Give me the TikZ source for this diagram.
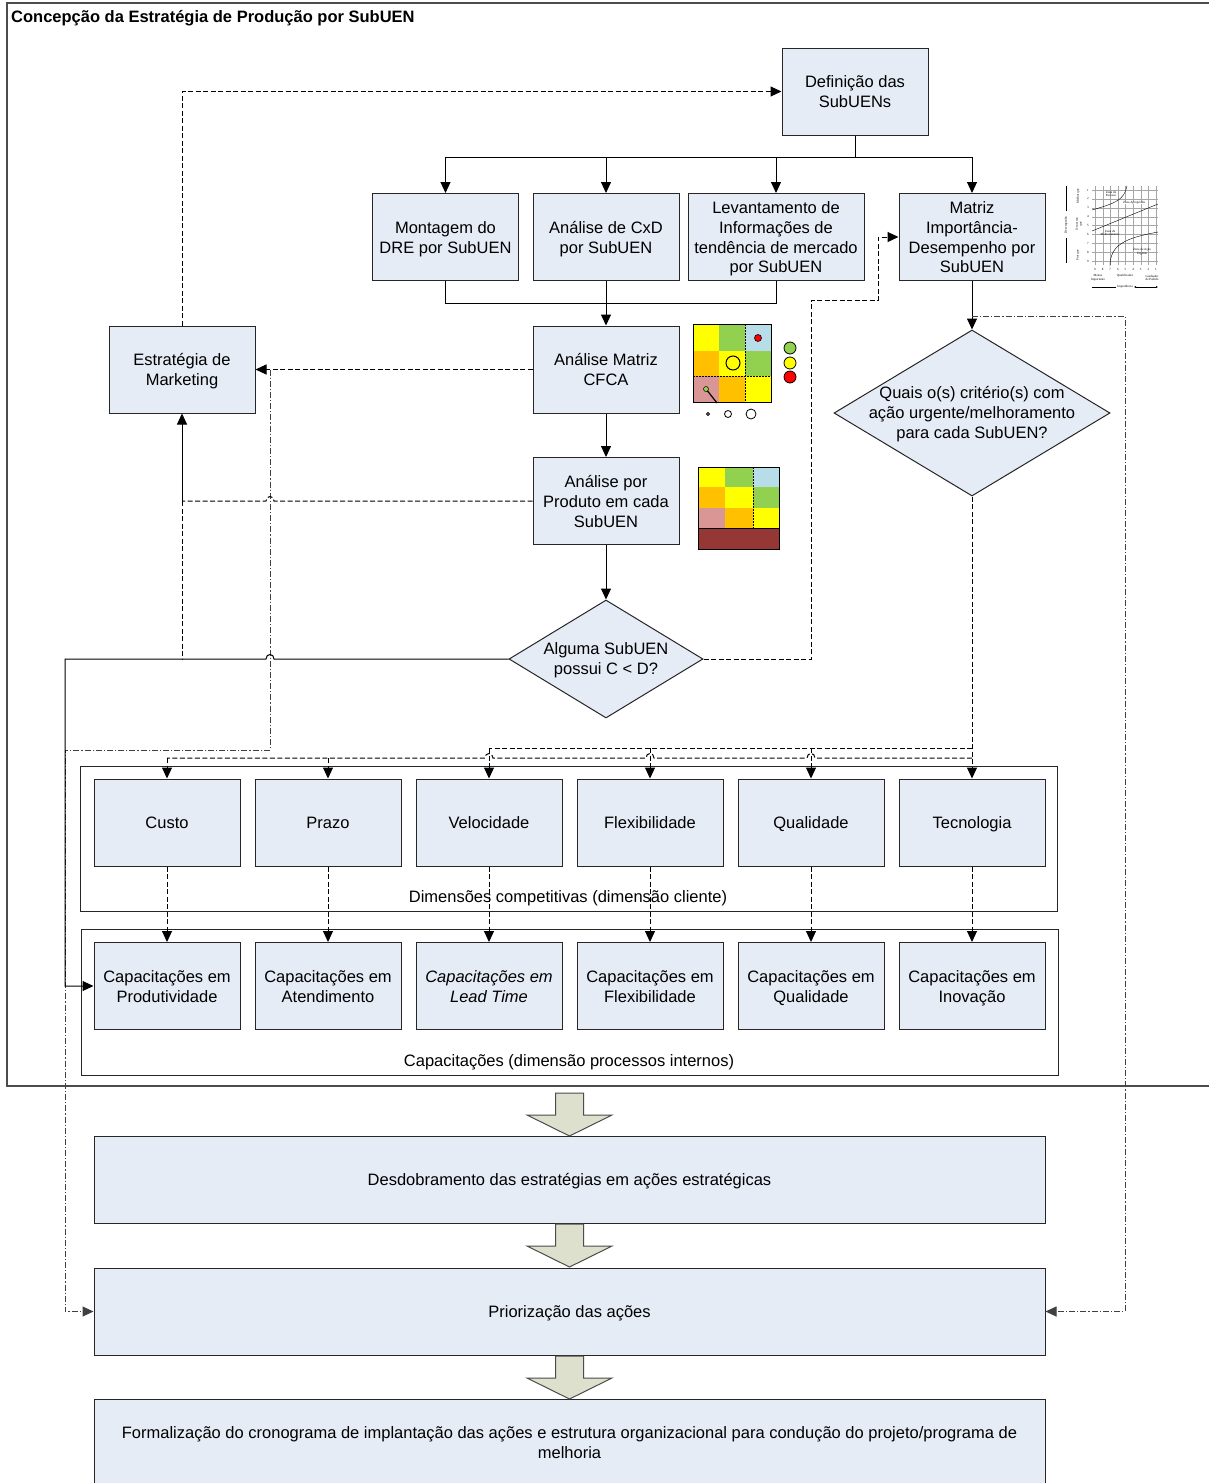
\documentclass[tikz,border=0pt]{standalone}
\usepackage{fontspec}
\setmainfont{Liberation Sans}
\newfontfamily\chartfont{Liberation Serif}
\usetikzlibrary{arrows.meta,shapes.geometric}
\definecolor{boxfill}{RGB}{230,236,246}
\definecolor{blockfill}{RGB}{221,224,204}
\definecolor{cyel}{RGB}{255,255,0}
\definecolor{cgrn}{RGB}{146,208,80}
\definecolor{cblu}{RGB}{183,222,232}
\definecolor{corg}{RGB}{255,192,0}
\definecolor{cpnk}{RGB}{218,150,148}
\definecolor{cdrd}{RGB}{149,55,53}
\definecolor{cred}{RGB}{255,0,0}
\newcommand{\topstrut}{\rule{0pt}{15.5pt}}
\newcommand{\botstrut}{\rule[-3.5pt]{0pt}{3.5pt}}
\begin{document}
\begin{tikzpicture}[x=1pt,y=-1pt,
  >={Triangle[length=11pt,width=10pt]},
  every node/.style={font=\fontsize{16.5}{19.7}\selectfont},
  txt/.style={align=center, inner sep=0pt, execute at begin node=\topstrut, execute at end node=\botstrut},
  box/.style={txt, draw=black!85, fill=boxfill, line width=1pt, minimum width=146pt, minimum height=87pt},
  widebox/.style={box, minimum width=951pt},
  dia/.style={draw=black!85, fill=boxfill, line width=1pt, shape=diamond, inner sep=0pt},
  frame/.style={draw=black!85, line width=1pt},
  conn/.style={line width=1pt, draw=black},
  dsh/.style={conn, dash pattern=on 5pt off 2.5pt},
  dshdot/.style={conn, draw=black!75, dash pattern=on 6pt off 2pt on 1.2pt off 2pt},
  blockarrow/.style={draw=black!70, fill=blockfill, line width=1pt, line join=miter},
  tiny/.style={font=\chartfont\fontsize{3.2}{3.6}\selectfont, inner sep=0pt, align=center},
  grid3/.style={draw=black!35, line width=0.25pt},
]
\useasboundingbox (0,0) rectangle (1208,1483);
\fill[white] (0,0) rectangle (1208,1483);

% outer frame and title
\draw[draw=black!70, line width=1.2pt] (7,3) rectangle (1222,1086);
\node[anchor=base west, inner sep=0pt, font=\fontsize{16.5}{19.7}\selectfont\bfseries] (title) at (11,23) {Concepção da Estratégia de Produção por SubUEN};

% group frames
\draw[frame] (80,766) rectangle (1057,911);
\node[txt] (dimlabel) at (568,896) {Dimensões competitivas (dimensão cliente)};
\draw[frame] (81,929) rectangle (1058,1075);
\node[txt] (caplabel) at (569,1060) {Capacitações (dimensão processos internos)};

% main boxes (multi-line captions are set as their own nodes)
\node[box] (def) at (855,91.5) {};
\node[txt] (deft) at (855,93.5) {Definição das\\SubUENs};
\node[box] (mont) at (445.5,237) {};
\node[txt] (montt) at (445.5,239) {Montagem do\\DRE por SubUEN};
\node[box] (cxd) at (606,237) {};
\node[txt] (cxdt) at (606,239) {Análise de CxD\\por SubUEN};
\node[box, minimum width=176pt] (lev) at (776,237) {};
\node[txt] (levt) at (776,239) {Levantamento de\\Informações de\\tendência de mercado\\por SubUEN};
\node[box] (mid) at (972,237) {};
\node[txt] (midt) at (972,239) {Matriz\\Importância-\\Desempenho por\\SubUEN};
\node[box] (mkt) at (182,369.5) {};
\node[txt] (mktt) at (182,371.5) {Estratégia de\\Marketing};
\node[box] (cfca) at (606,369.5) {};
\node[txt] (cfcat) at (606,371.5) {Análise Matriz\\CFCA};
\node[box] (prod) at (606,501) {};
\node[txt] (prodt) at (606,503) {Análise por\\Produto em cada\\SubUEN};

\node[dia, minimum width=194pt, minimum height=118pt] (d1) at (606,659) {};
\node[txt] (d1t) at (606,660) {Alguma SubUEN\\possui C < D?};
\node[dia, minimum width=276pt, minimum height=166pt] (d2) at (972,413) {};
\node[txt] (d2t) at (972,414) {Quais o(s) critério(s) com\\ação urgente/melhoramento\\para cada SubUEN?};

% competitive dimensions
\node[box] (custo) at (167,822.5) {Custo};
\node[box] (prazo) at (328,822.5) {Prazo};
\node[box] (veloc) at (489,822.5) {Velocidade};
\node[box] (flex) at (650,822.5) {Flexibilidade};
\node[box] (qual) at (811,822.5) {Qualidade};
\node[box] (tec) at (972,822.5) {Tecnologia};

% capabilities
\foreach \n/\x in {cprod/167, cate/328, clt/489, cflex/650, cqual/811, cinov/972}
  \node[box] (\n) at (\x,986) {};
\node[txt] (cprodt) at (167,988) {Capacitações em\\Produtividade};
\node[txt] (catet) at (328,988) {Capacitações em\\Atendimento};
\node[txt, font=\fontsize{16.5}{19.7}\selectfont\itshape] (cltt) at (489,988) {Capacitações em\\Lead Time};
\node[txt] (cflext) at (650,988) {Capacitações em\\Flexibilidade};
\node[txt] (cqualt) at (811,988) {Capacitações em\\Qualidade};
\node[txt] (cinovt) at (972,988) {Capacitações em\\Inovação};

% lower stages
\node[widebox] (desd) at (569.5,1179.5) {Desdobramento das estratégias em ações estratégicas};
\node[widebox] (prio) at (569.5,1311.5) {Priorização das ações};
\node[widebox, minimum height=110pt] (form) at (569.5,1454) {};
\node[txt] (formt) at (569.5,1444) {Formalização do cronograma de implantação das ações e estrutura organizacional para condução do projeto/programa de\\melhoria};

% block arrows between stages
\foreach \t in {1093,1224,1356}{
  \draw[blockarrow] (555.5,\t) -- (583.5,\t) -- (583.5,\t+22) -- (612,\t+22) -- (569.5,\t+43) -- (527,\t+22) -- (555.5,\t+22) -- cycle;
}

% top distribution
\coordinate (j1) at (855,157);
\draw[conn] (def.south) -- (j1);
\draw[conn,->] (j1) -| (mont.north);
\draw[conn,->] (j1) -| (cxd.north);
\draw[conn,->] (j1) -| (lev.north);
\draw[conn,->] (j1) -| (mid.north);

% merge into CFCA
\coordinate (j2) at (606,303);
\draw[conn] (mont.south) |- (j2);
\draw[conn] (lev.south) |- (j2);
\draw[conn,->] (cxd.south) -- (cfca.north);
\draw[conn,->] (cfca.south) -- (prod.north);
\draw[conn,->] (prod.south) -- (d1.north);

% marketing loop
\draw[dsh,->] (mkt.north) |- (def.west);
\draw[dsh,->] (cfca.west) -- (mkt.east);
\coordinate (k1) at (270,369.5);
\draw[dshdot,->] (k1) -- (270,750) -- (65,750) |- (prio.west);
\coordinate (m1) at (182,501);
\draw[dsh] (prod.west) -- (274,501) .. controls (274,495) and (266,495) .. (266,501) -- (m1);
\draw[conn,->] (m1) -- (mkt.south);
\draw[dsh] (m1) -- (182,659);
\draw[conn,->] (d1.west) -- (274,659) .. controls (274,653) and (266,653) .. (266,659) -- (65,659) |- (cprod.west);

% link to importance-performance matrix
\draw[dsh,->] (d1.east) -- (811,659) -- (811,300) -- (878,300) |- (mid.west);
\draw[conn,->] (mid.south) -- (d2.north);
\draw[dshdot,->] (972,316) -- (1125,316) |- (prio.east);

% from criteria decision to competitive dimensions
\draw[dsh,->] (d2.south) -- (tec.north);
\draw[dsh] (972,748) -- (489,748);
\draw[dsh,->] (489,748) -- (veloc.north);
\draw[dsh,->] (650,748) -- (flex.north);
\draw[dsh,->] (811,748) -- (qual.north);
\draw[dsh] (972,758) -- (815,758) .. controls (815,752) and (807,752) .. (807,758)
  -- (654,758) .. controls (654,752) and (646,752) .. (646,758)
  -- (493,758) .. controls (493,752) and (485,752) .. (485,758) -- (167,758);
\draw[dsh,->] (167,758) -- (custo.north);
\draw[dsh,->] (328,758) -- (prazo.north);

% dimensions to capabilities
\foreach \a/\b in {custo/cprod, prazo/cate, veloc/clt, flex/cflex, qual/cqual, tec/cinov}
  \draw[dsh,->] (\a.south) -- (\b.north);

% CFCA matrix thumbnail
\fill[cyel] (693,324) rectangle (719,351);
\fill[cgrn] (719,324) rectangle (745,351);
\fill[cblu] (745,324) rectangle (771,351);
\fill[corg] (693,351) rectangle (719,376);
\fill[cyel] (719,351) rectangle (745,376);
\fill[cgrn] (745,351) rectangle (771,376);
\fill[cpnk] (693,376) rectangle (719,402);
\fill[corg] (719,376) rectangle (745,402);
\fill[cyel] (745,376) rectangle (771,402);
\draw[line width=1pt] (693,324) rectangle (771,402);
\draw[line width=0.6pt, dash pattern=on 2pt off 1pt] (745,324) -- (745,402) (693,376) -- (771,376);
\draw[fill=cred, line width=0.6pt] (758,338) circle[radius=3.5];
\draw[line width=1pt] (733,363) circle[radius=7];
\draw[line width=1.2pt] (706,389) -- (717,403);
\draw[fill=cgrn, line width=0.5pt] (706,389) circle[radius=2.5];
\draw[fill=cgrn, line width=0.8pt] (790,348) circle[radius=6];
\draw[fill=cyel, line width=0.8pt] (790,363) circle[radius=6];
\draw[fill=cred, line width=0.8pt] (790,377) circle[radius=6];
\draw[line width=0.8pt] (708,414) circle[radius=1.5] (728,414) circle[radius=3.5] (751,414) circle[radius=5];

% product matrix thumbnail
\fill[cyel] (698,467) rectangle (725,487);
\fill[cgrn] (725,467) rectangle (753,487);
\fill[cblu] (753,467) rectangle (779,487);
\fill[corg] (698,487) rectangle (725,508);
\fill[cyel] (725,487) rectangle (753,508);
\fill[cgrn] (753,487) rectangle (779,508);
\fill[cpnk] (698,508) rectangle (725,528);
\fill[corg] (725,508) rectangle (753,528);
\fill[cyel] (753,508) rectangle (779,528);
\fill[cdrd] (698,528) rectangle (779,549);
\draw[line width=0.9pt] (698,467) rectangle (779,549) (698,528) -- (779,528);
\draw[line width=0.6pt, dash pattern=on 2pt off 1pt] (753,467) -- (753,528);

% importance-performance chart thumbnail
\foreach \i in {0,...,8} {
  \draw[grid3] (1095+7.625*\i,186) -- (1095+7.625*\i,265);
  \draw[grid3] (1092,190+8.875*\i) -- (1158,190+8.875*\i);
}
\foreach \i [evaluate=\i as \lab using int(\i+1)] in {0,...,8}
  \node[tiny] at (1088,190+8.875*\i) {\lab};
\foreach \i [evaluate=\i as \lab using int(9-\i)] in {0,...,8}
  \node[tiny] at (1095+7.625*\i,269) {\lab};
\draw[line width=0.4pt] (1092,210) .. controls (1116,203) and (1124,200) .. (1127,186);
\draw[line width=0.4pt] (1092,231) -- (1158,204);
\draw[line width=0.4pt] (1110,266) .. controls (1110,245) and (1125,238) .. (1158,232);
\node[tiny] at (1111,194) {Zona de\\Excesso};
\node[tiny, fill=white] at (1134,203) {Zona Apropriada};
\node[tiny] at (1110,233) {Zona de\\Melhoramento};
\node[tiny] at (1142,252) {Zona de Ação\\Urgente};
\node[tiny] at (1098,278) {Menos\\Importante};
\node[tiny] at (1125,276) {Qualificador};
\node[tiny] at (1152,278) {Ganhador\\de Pedido};
\node[tiny, fill=white, inner sep=1pt] at (1125,287) {Importância};
\draw[line width=0.4pt, {Latex[length=2pt,width=2pt]}-{Latex[length=2pt,width=2pt]}] (1092,287) -- (1116,287) (1134,287) -- (1158,287);
\draw[line width=0.4pt] (1066,186) -- (1066,211) (1066,238) -- (1066,263);
\node[tiny, rotate=90] at (1066,225) {Desempenho};
\node[tiny, rotate=90] at (1078,196) {Melhor que};
\node[tiny, rotate=90] at (1079,224) {O mesmo\\que};
\node[tiny, rotate=90] at (1078,255) {Pior que};
\end{tikzpicture}
\end{document}
